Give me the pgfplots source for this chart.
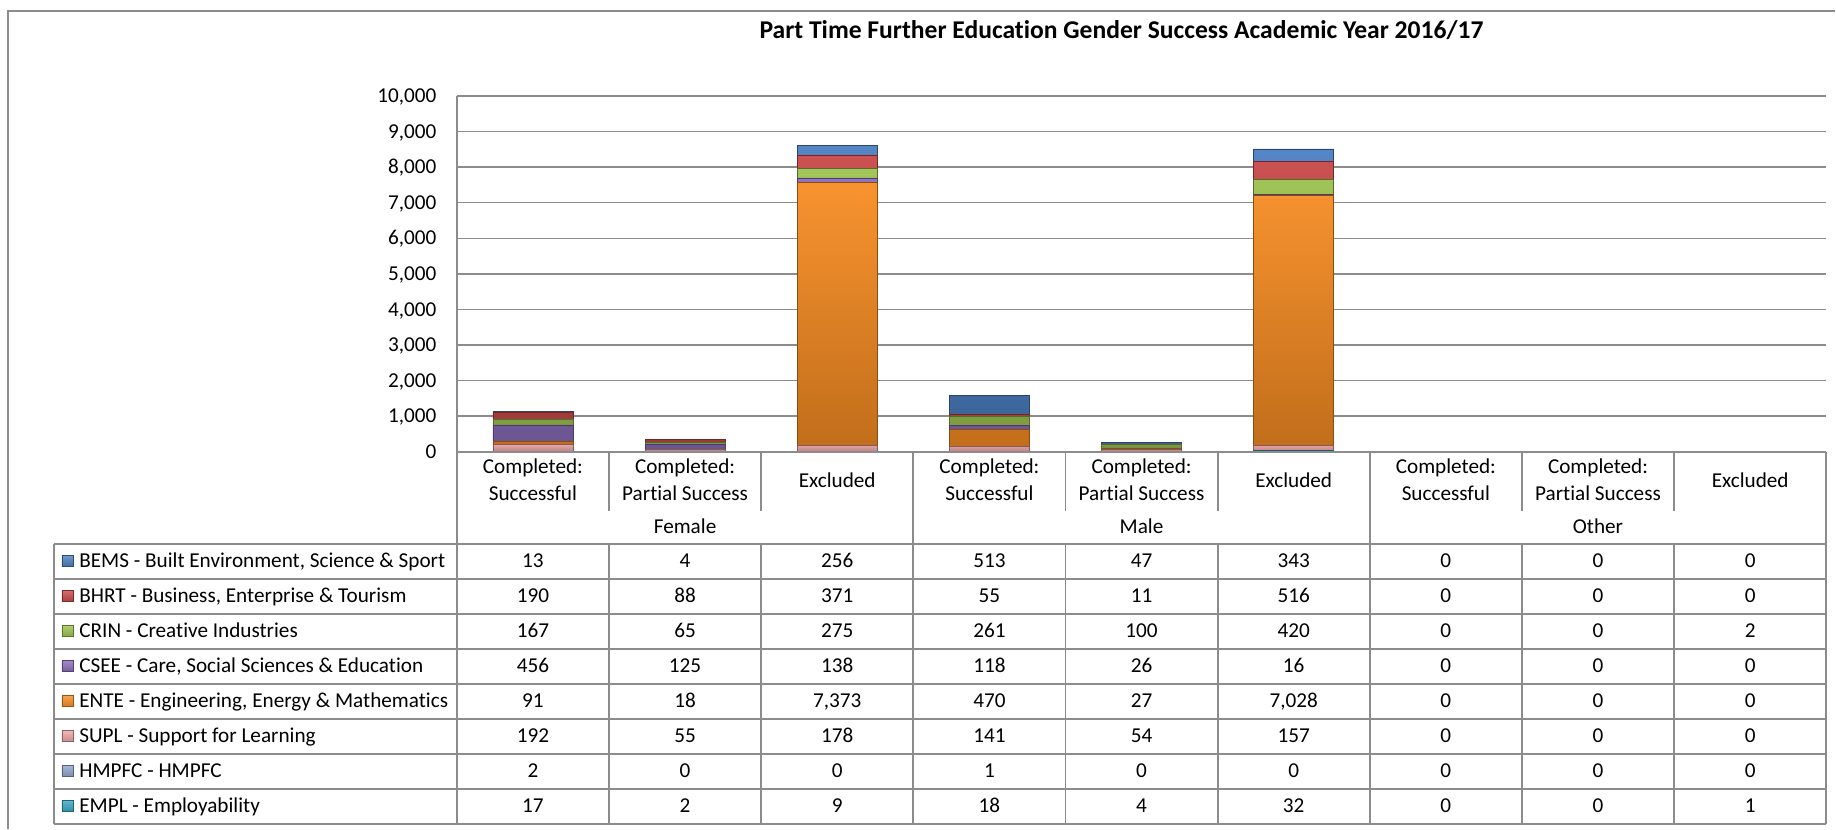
\documentclass[border=0pt]{standalone}
\usepackage{fontspec}
\setmainfont{Carlito}[Ligatures=NoCommon]
\usepackage{pgfplots}
\pgfplotsset{compat=1.18}

\definecolor{cBEMS}{HTML}{4A7EC2}
\definecolor{cBHRT}{HTML}{C94747}
\definecolor{cCRIN}{HTML}{9CC24E}
\definecolor{cCSEE}{HTML}{8A6CBB}
\definecolor{cENTE}{HTML}{F78C22}
\definecolor{cSUPL}{HTML}{EDA3A3}
\definecolor{cHMPFC}{HTML}{8EA4CF}
\definecolor{cEMPL}{HTML}{35A6C2}
\definecolor{gridcol}{HTML}{8C8C8C}
\definecolor{tabcol}{HTML}{8C8C8C}

\newcommand\tf{\fontsize{10.6pt}{13pt}\selectfont}

\pgfplotsset{bev/.style={top color=#1!94!white, bottom color=#1!78!black, draw=#1!55!black, line width=0.35pt}}

% column geometry in px (1px = 0.5pt)
\newcommand\cw{152.22}
\newcommand\rowlab[3]{%
  \draw[top color=#2!80!white, bottom color=#2!85!black, draw=#2!60!black, line width=0.3pt] (62,{556+35*#1}) rectangle ++(11,11);
  \node[anchor=base west, font=\tf, inner sep=0pt] at (79,{567.5+35*#1}) {#3};
}
\newcommand\rowvals[2]{%
  \foreach \v [count=\c from 0] in {#2}
    \node[anchor=base, font=\tf, inner sep=0pt] at ({457+(\c+0.5)*\cw},{568+35*#1}) {\v};
}

\begin{document}
\begin{tikzpicture}
\begin{scope}[x=0.5pt,y=-0.5pt]
  \path (0,0) rectangle (1836,829);
  \draw[gridcol, line width=0.75pt] (8,829) -- (8,11) -- (1836,11);
  \node[font=\fontsize{12.8pt}{15pt}\selectfont\bfseries, anchor=base, inner sep=0pt] at (1122,39)
    {Part Time Further Education Gender Success Academic Year 2016/17};
\end{scope}

\begin{axis}[
  at={(228.5pt,-226pt)}, anchor=south west,
  scale only axis, width=685pt, height=178pt,
  xmin=-0.5, xmax=8.5, ymin=0, ymax=10000,
  xtick=\empty,
  ytick={0,1000,...,10000},
  scaled y ticks=false,
  ymajorgrids, grid style={gridcol, line width=0.75pt},
  axis lines*=left,
  axis line style={gridcol, line width=0.75pt, -},
  major tick length=0pt,
  yticklabel style={font=\tf, anchor=base east, inner sep=0pt, xshift=-10pt, yshift=-3.3pt,
    /pgf/number format/.cd, fixed, 1000 sep={,}, assume math mode=true},
  ybar stacked, bar width=40pt,
]
% EMPL
\addplot[bev=cEMPL] coordinates {(0,17) (1,2) (2,9) (3,18) (4,4) (5,32) (6,0) (7,0) (8,1)};
% HMPFC
\addplot[bev=cHMPFC] coordinates {(0,2) (1,0) (2,0) (3,1) (4,0) (5,0) (6,0) (7,0) (8,0)};
% SUPL
\addplot[bev=cSUPL] coordinates {(0,192) (1,55) (2,178) (3,141) (4,54) (5,157) (6,0) (7,0) (8,0)};
% ENTE
\addplot[bev=cENTE] coordinates {(0,91) (1,18) (2,7373) (3,470) (4,27) (5,7028) (6,0) (7,0) (8,0)};
% CSEE
\addplot[bev=cCSEE] coordinates {(0,456) (1,125) (2,138) (3,118) (4,26) (5,16) (6,0) (7,0) (8,0)};
% CRIN
\addplot[bev=cCRIN] coordinates {(0,167) (1,65) (2,275) (3,261) (4,100) (5,420) (6,0) (7,0) (8,2)};
% BHRT
\addplot[bev=cBHRT] coordinates {(0,190) (1,88) (2,371) (3,55) (4,11) (5,516) (6,0) (7,0) (8,0)};
% BEMS
\addplot[bev=cBEMS] coordinates {(0,13) (1,4) (2,256) (3,513) (4,47) (5,343) (6,0) (7,0) (8,0)};
\end{axis}

\begin{scope}[x=0.5pt,y=-0.5pt]
  % table grid
  \draw[tabcol, line width=0.9pt] (457,452) -- (1827,452);
  \foreach \r in {0,...,8} \draw[tabcol, line width=0.9pt] (54,{544+35*\r}) -- (1827,{544+35*\r});
  \draw[tabcol, line width=0.9pt] (54,544) -- (54,824);
  \draw[tabcol, line width=0.9pt] (457,452) -- (457,824);
  \foreach \k in {3,6,9} \draw[tabcol, line width=0.9pt] ({457+\k*\cw},452) -- ({457+\k*\cw},824);
  \foreach \k in {1,2,4,5,7,8} {
    \draw[tabcol, line width=0.9pt] ({457+\k*\cw},452) -- ({457+\k*\cw},511);
    \draw[tabcol, line width=0.9pt] ({457+\k*\cw},544) -- ({457+\k*\cw},824);
  }
  % category labels
  \foreach \g in {0,1,2} {
    \node[anchor=base, font=\tf, inner sep=0pt] at ({457+(3*\g+0.5)*\cw},474) {Completed:};
    \node[anchor=base, font=\tf, inner sep=0pt] at ({457+(3*\g+0.5)*\cw},501) {Successful};
    \node[anchor=base, font=\tf, inner sep=0pt] at ({457+(3*\g+1.5)*\cw},474) {Completed:};
    \node[anchor=base, font=\tf, inner sep=0pt] at ({457+(3*\g+1.5)*\cw},501) {Partial Success};
    \node[anchor=base, font=\tf, inner sep=0pt] at ({457+(3*\g+2.5)*\cw},488) {Excluded};
  }
  \node[anchor=base, font=\tf, inner sep=0pt] at ({457+1.5*\cw},534) {Female};
  \node[anchor=base, font=\tf, inner sep=0pt] at ({457+4.5*\cw},534) {Male};
  \node[anchor=base, font=\tf, inner sep=0pt] at ({457+7.5*\cw},534) {Other};
  % rows
  \rowlab{0}{cBEMS}{BEMS - Built Environment, Science \& Sport}
  \rowvals{0}{13,4,256,513,47,343,0,0,0}
  \rowlab{1}{cBHRT}{BHRT - Business, Enterprise \& Tourism}
  \rowvals{1}{190,88,371,55,11,516,0,0,0}
  \rowlab{2}{cCRIN}{CRIN - Creative Industries}
  \rowvals{2}{167,65,275,261,100,420,0,0,2}
  \rowlab{3}{cCSEE}{CSEE - Care, Social Sciences \& Education}
  \rowvals{3}{456,125,138,118,26,16,0,0,0}
  \rowlab{4}{cENTE}{ENTE - Engineering, Energy \& Mathematics}
  \rowvals{4}{91,18,7{,}373,470,27,7{,}028,0,0,0}
  \rowlab{5}{cSUPL}{SUPL - Support for Learning}
  \rowvals{5}{192,55,178,141,54,157,0,0,0}
  \rowlab{6}{cHMPFC}{HMPFC - HMPFC}
  \rowvals{6}{2,0,0,1,0,0,0,0,0}
  \rowlab{7}{cEMPL}{EMPL - Employability}
  \rowvals{7}{17,2,9,18,4,32,0,0,1}
\end{scope}
\end{tikzpicture}
\end{document}
